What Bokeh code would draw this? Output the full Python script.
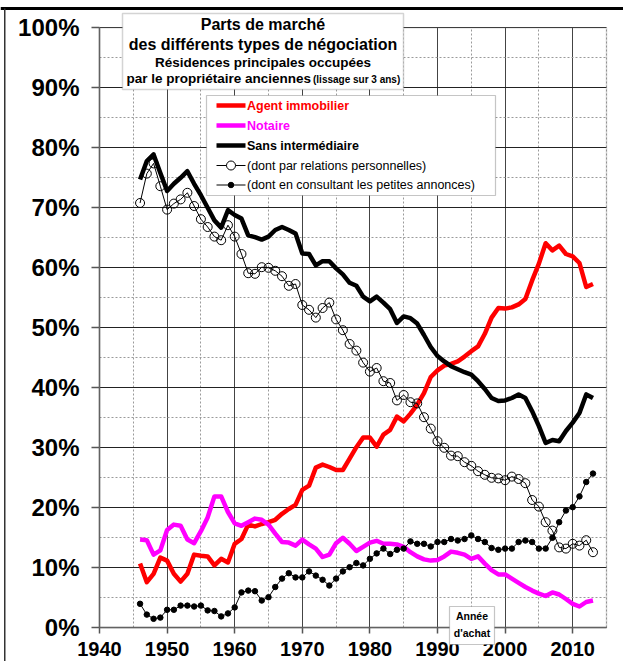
from bokeh.plotting import figure
from bokeh.models import FixedTicker, PrintfTickFormatter, BoxAnnotation, Label, Range1d
from bokeh.embed import file_html
from bokeh.resources import INLINE

years = list(range(1946, 2014))

agent = [10.7, 7.6, 9.0, 11.7, 11.2, 9.0, 7.7, 9.0, 12.2, 12.0,
         11.9, 10.4, 11.5, 10.9, 14.0, 14.8, 17.2, 16.9, 17.3, 17.6,
         18.0, 19.0, 19.8, 20.5, 23.0, 23.7, 26.7, 27.2, 26.8, 26.3,
         26.3, 28.2, 30.1, 31.7, 31.7, 30.2, 32.2, 33.0, 35.2, 34.4,
         35.7, 37.2, 39.1, 41.8, 42.9, 43.7, 44.0, 44.4, 45.2, 46.1,
         46.9, 49.0, 51.7, 53.3, 53.2, 53.4, 53.9, 54.8, 57.9, 60.7,
         64.1, 62.9, 63.7, 62.3, 61.9, 60.8, 56.8, 57.3]

notaire = [14.7, 14.6, 12.2, 12.9, 16.3, 17.2, 17.0, 14.7, 14.1, 16.1,
           18.4, 21.9, 21.9, 19.3, 17.4, 17.0, 17.6, 18.2, 18.0, 17.2,
           15.7, 14.3, 14.2, 13.7, 14.7, 13.9, 13.2, 11.8, 12.2, 14.1,
           15.0, 14.0, 12.8, 13.5, 14.2, 14.5, 14.0, 14.0, 13.9, 13.5,
           12.6, 11.9, 11.4, 11.2, 11.3, 11.9, 12.7, 12.5, 12.2, 11.5,
           11.9, 10.7, 9.6, 8.9, 8.9, 8.2, 7.5, 6.8, 6.2, 5.7,
           5.3, 5.9, 5.55, 4.8, 4.0, 3.55, 4.3, 4.55]

sans = [74.7, 77.8, 78.9, 75.8, 72.8, 74.0, 75.0, 76.1, 74.0, 72.1,
        70.0, 67.9, 66.7, 69.6, 68.8, 68.2, 65.4, 65.1, 64.7, 65.2,
        66.3, 66.8, 66.3, 65.7, 62.4, 62.3, 60.4, 61.1, 61.1, 59.9,
        58.9, 57.5, 57.0, 55.2, 54.4, 55.2, 54.2, 53.1, 50.8, 51.9,
        51.6, 50.7, 48.8, 46.8, 45.3, 44.4, 43.6, 43.1, 42.6, 42.2,
        41.1, 39.8, 38.3, 37.8, 37.9, 38.3, 38.9, 38.3, 36.1, 33.6,
        30.8, 31.3, 31.1, 32.8, 34.2, 35.8, 38.9, 38.3]

relations = [70.8, 75.7, 77.4, 73.6, 69.7, 70.7, 71.4, 72.5, 70.3, 68.1,
             66.8, 65.2, 64.6, 67.1, 65.2, 62.3, 59.1, 59.0, 60.1, 60.0,
             59.5, 58.6, 57.0, 57.3, 53.8, 53.0, 51.7, 53.3, 54.2, 51.4,
             49.6, 47.3, 46.2, 44.2, 42.7, 43.3, 41.1, 40.8, 37.9, 38.8,
             37.6, 37.4, 35.1, 33.2, 31.1, 30.0, 28.7, 28.6, 27.6, 27.0,
             26.1, 25.5, 25.0, 24.9, 24.6, 25.2, 24.8, 24.1, 21.3, 20.2,
             17.6, 16.2, 13.4, 13.2, 14.0, 13.7, 14.6, 12.6]

annonces = [4.0, 2.2, 1.5, 1.7, 3.0, 3.0, 3.7, 3.7, 3.55, 3.7,
            2.9, 2.8, 1.9, 2.4, 3.4, 5.9, 6.2, 6.1, 4.55, 5.1,
            6.8, 8.2, 9.1, 8.4, 8.4, 9.4, 8.7, 8.0, 7.05, 8.2,
            9.4, 10.1, 10.8, 10.4, 11.5, 12.4, 13.2, 12.3, 13.0, 13.2,
            14.4, 14.0, 14.0, 13.55, 14.3, 14.3, 14.8, 14.55, 14.8, 15.4,
            14.8, 14.3, 13.3, 13.0, 13.2, 13.2, 14.3, 14.55, 14.3, 13.2,
            13.2, 15.0, 17.6, 19.55, 20.1, 21.9, 24.3, 25.7]

x_ticks = [1940, 1950, 1960, 1970, 1980, 1990, 2000, 2010]
x_minor = [1945, 1955, 1965, 1975, 1985, 1995, 2005, 2015]
y_ticks = [0, 10, 20, 30, 40, 50, 60, 70, 80, 90, 100]
y_minor = [5, 15, 25, 35, 45, 55, 65, 75, 85, 95]
X0, X1 = 1940, 2015
Y0, Y1 = 0, 100

FONT = "Liberation Sans"

# page-pixel -> data helpers (layout only)
def X(px):
    return 1940 + (px - 99) / 6.76

def Y(py):
    return (627.3 - py) / 6.0

W, H = 623, 661
p = figure(width=W, height=H, output_backend="svg", toolbar_location=None,
           x_range=Range1d(X(0), X(W)), y_range=Range1d(Y(H), Y(0)),
           min_border_left=0, min_border_right=0, min_border_top=0, min_border_bottom=0)
p.background_fill_color = "white"
p.border_fill_color = "white"
p.outline_line_color = None

# axes (fixed inside the frame)
p.xaxis.fixed_location = Y0
p.yaxis.fixed_location = X0
p.xaxis.bounds = (X0, X1)
p.yaxis.bounds = (Y0, Y1)
p.xaxis.ticker = FixedTicker(ticks=x_ticks, minor_ticks=x_minor)
p.yaxis.ticker = FixedTicker(ticks=y_ticks, minor_ticks=y_minor)
p.yaxis.formatter = PrintfTickFormatter(format="%d%%")
for ax in (p.xaxis, p.yaxis):
    ax.axis_line_color = "#555555"
    ax.axis_line_width = 1.5
    ax.major_tick_line_color = "#555555"
    ax.major_tick_line_width = 1.5
    ax.major_tick_in = 0
    ax.minor_tick_line_color = None
    ax.major_label_text_font = FONT
    ax.major_label_text_font_style = "bold"
    ax.major_label_text_color = "black"
p.yaxis.major_tick_out = 8
p.yaxis.major_label_standoff = 12
p.yaxis.major_label_text_font_size = "24px"
p.xaxis.major_tick_out = 6
p.xaxis.major_label_standoff = 8
p.xaxis.major_label_text_font_size = "20px"

# grids limited to the plotting area
p.ygrid.bounds = (Y0, Y1)
p.ygrid.cross_bounds = (X0, X1)
p.xgrid.bounds = (X0, X1)
p.xgrid.cross_bounds = (Y0, Y1)
p.ygrid.grid_line_color = "#222222"
p.ygrid.grid_line_width = 1
p.ygrid.minor_grid_line_color = "#9a9a9a"
p.ygrid.minor_grid_line_dash = "2 2"
p.xgrid.grid_line_color = "#444444"
p.xgrid.grid_line_width = 1
p.xgrid.minor_grid_line_color = "#9a9a9a"
p.xgrid.minor_grid_line_dash = "2 2"

# series
p.line(years, agent, line_color="#FF0000", line_width=4.5, line_join="round")
p.line(years, notaire, line_color="#FF00FF", line_width=4.5, line_join="round")
p.line(years, sans, line_color="black", line_width=4.5, line_join="round")
p.line(years, relations, line_color="black", line_width=1)
p.scatter(years, relations, marker="circle", size=9, fill_color=None, line_color="black", line_width=1)
p.line(years, annonces, line_color="black", line_width=1)
p.scatter(years, annonces, marker="circle", size=5.5, fill_color="black", line_color="black")

# plot-area border and outer picture border
p.add_layout(BoxAnnotation(left=X0, right=X1, bottom=Y0, top=Y1, fill_alpha=0,
                           line_color="#808080", line_width=1.5))
p.add_layout(BoxAnnotation(left=X(0), right=X(W), top=Y(6.5), bottom=Y(9.5),
                           fill_color="black", fill_alpha=1, line_color=None))
p.add_layout(BoxAnnotation(left=X(3.5), right=X(5), top=Y(8), bottom=Y(H),
                           fill_color="#333333", fill_alpha=1, line_color=None))

# title box
p.add_layout(BoxAnnotation(left=X(122), right=X(403), top=Y(13), bottom=Y(89),
                           fill_color="white", fill_alpha=1, line_color="#707070", line_width=1.5))
cx = X(262.5)
for txt, py, fs in [("Parts de marché", 24, "16px"),
                    ("des différents types de négociation", 44, "16px"),
                    ("Résidences principales occupées", 62, "13.5px")]:
    p.add_layout(Label(x=cx, y=Y(py), text=txt, text_font=FONT, text_font_style="bold",
                       text_font_size=fs, text_align="center", text_baseline="middle", text_color="black"))
p.add_layout(Label(x=X(310.5), y=Y(77.5), text="par le propriétaire anciennes", text_font=FONT,
                   text_font_style="bold", text_font_size="13.5px", text_align="right",
                   text_baseline="middle", text_color="black"))
p.add_layout(Label(x=X(312.5), y=Y(78.5), text="(lissage sur 3 ans)", text_font=FONT,
                   text_font_style="bold", text_font_size="10px", text_align="left",
                   text_baseline="middle", text_color="black"))

# legend box
p.add_layout(BoxAnnotation(left=X(206), right=X(495), top=Y(95), bottom=Y(195),
                           fill_color="white", fill_alpha=1, line_color="#404040", line_width=1.2))
leg = [("Agent immobilier", "#FF0000", "bold", 105),
       ("Notaire", "#FF00FF", "bold", 125),
       ("Sans intermédiaire", "black", "bold", 145),
       ("(dont par relations personnelles)", "black", "normal", 165),
       ("(dont en consultant les petites annonces)", "black", "normal", 184.5)]
for i, (txt, col, style, py) in enumerate(leg):
    lw = 4.5 if i < 3 else 1
    p.line([X(216), X(245)], [Y(py), Y(py)], line_color=col, line_width=lw, level="overlay")
    if i == 3:
        p.scatter([X(230.5)], [Y(py)], marker="circle", size=9, fill_color="white",
                  line_color="black", level="overlay")
    if i == 4:
        p.scatter([X(230.5)], [Y(py)], marker="circle", size=5.5, fill_color="black",
                  line_color="black", level="overlay")
    p.add_layout(Label(x=X(246.5), y=Y(py), text=txt, text_font=FONT, text_font_style=style,
                       text_font_size="12.5px", text_align="left", text_baseline="middle",
                       text_color=col))

# "Année d'achat" box (drawn over the axis line)
p.add_layout(BoxAnnotation(left=X(449), right=X(494), top=Y(606), bottom=Y(644),
                           fill_color="white", fill_alpha=1, line_color="#404040", line_width=1.2,
                           level="overlay"))
p.add_layout(Label(x=X(471.5), y=Y(615.5), text="Année", text_font=FONT, text_font_style="bold",
                   text_font_size="10.5px", text_align="center", text_baseline="middle",
                   text_color="black", level="overlay"))
p.add_layout(Label(x=X(471.5), y=Y(632.5), text="d'achat", text_font=FONT, text_font_style="bold",
                   text_font_size="10.5px", text_align="center", text_baseline="middle",
                   text_color="black", level="overlay"))

open("out.html", "w").write(file_html(p, INLINE))
